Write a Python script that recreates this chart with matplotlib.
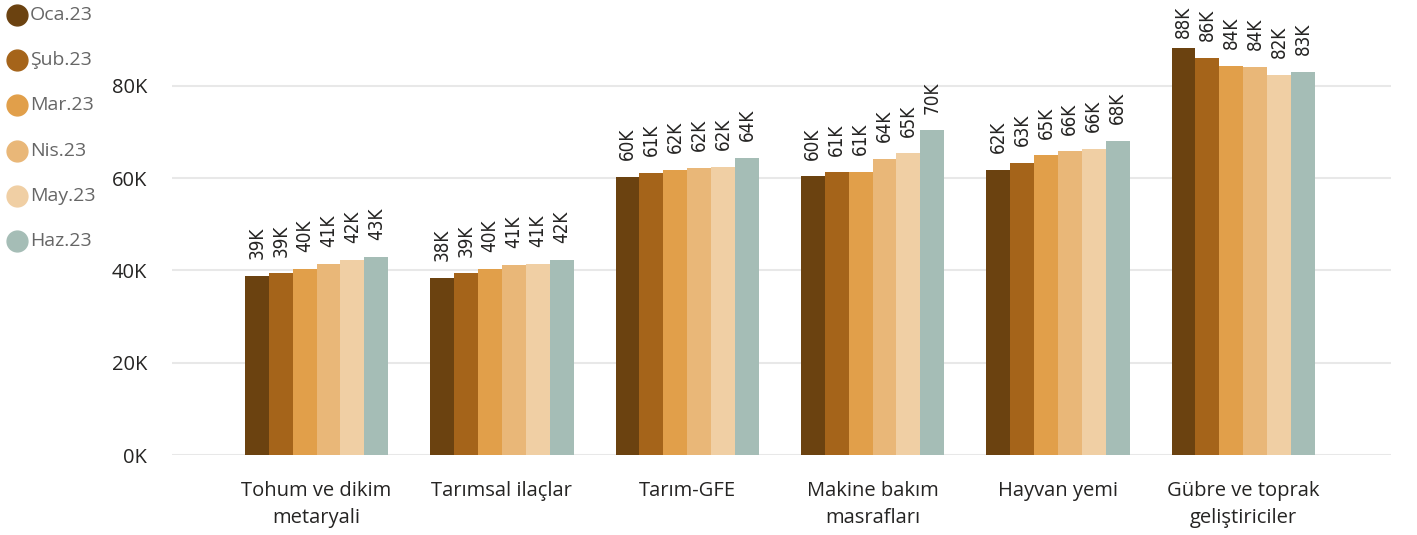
import matplotlib
matplotlib.use("agg")
import matplotlib.pyplot as plt
from matplotlib.lines import Line2D
import numpy as np

categories = ["Tohum ve dikim\nmetaryali", "Tarımsal ilaçlar", "Tarım-GFE",
              "Makine bakım\nmasrafları", "Hayvan yemi", "Gübre ve toprak\ngeliştiriciler"]
months = ["Oca.23", "Şub.23", "Mar.23", "Nis.23", "May.23", "Haz.23"]
colors = ["#6B4210", "#A5641A", "#E19F4A", "#E9B778", "#F0CFA4", "#A5BDB6"]

# values in thousands, one list per month
oca = [38.8, 38.4, 60.3, 60.4, 61.8, 88.3]
sub = [39.4, 39.4, 61.2, 61.3, 63.4, 86.1]
mar = [40.4, 40.3, 61.8, 61.4, 65.0, 84.4]
nis = [41.4, 41.2, 62.2, 64.2, 65.8, 84.2]
may = [42.3, 41.4, 62.4, 65.4, 66.4, 82.4]
haz = [42.9, 42.3, 64.4, 70.4, 68.1, 83.1]
series = [oca, sub, mar, nis, may, haz]

plt.rcParams["font.family"] = ["Open Sans", "DejaVu Sans"]

fig = plt.figure(figsize=(14.17, 5.35), dpi=100)
ax = fig.add_axes([0.1214, 0.1495, 0.8606, 0.845])

x = np.arange(len(categories))
w = 0.129
for i, (vals, c) in enumerate(zip(series, colors)):
    pos = x + (i - 2.5) * w
    ax.bar(pos, vals, width=w, color=c, zorder=2)
    for px, v in zip(pos, vals):
        # labels that would run off the top get pulled closer to the bar
        off = 12 if v < 87 else 7
        ax.annotate(f"{round(v):.0f}K", (px, v), xytext=(0, off), textcoords="offset points",
                    rotation=90, ha="center", va="bottom", fontsize=13.5,
                    color="#252423", family="DejaVu Sans", fontstretch="condensed")

ax.set_xlim(-0.78, 5.8)
ax.set_ylim(0, 98)
ax.set_yticks([0, 20, 40, 60, 80])
ax.set_yticklabels(["0K", "20K", "40K", "60K", "80K"])
ax.set_xticks(x)
ax.set_xticklabels(categories, linespacing=1.45)
ax.tick_params(axis="y", length=0, pad=18, labelsize=14.5, labelcolor="#252423")
ax.tick_params(axis="x", length=0, pad=19, labelsize=14.5, labelcolor="#252423")
ax.grid(axis="y", color="#E8E8E8", linewidth=1.5, zorder=0)
for s in ax.spines.values():
    s.set_visible(False)

# legend drawn by hand in the top-left corner
W, H = 1417, 535
for i, (m, c) in enumerate(zip(months, colors)):
    yy = 1 - (15 + i * 45.2) / H
    fig.add_artist(Line2D([17 / W], [yy], transform=fig.transFigure, marker="o",
                          markersize=15, color=c, linestyle=""))
    fig.text(30 / W, yy, m, va="center", ha="left", fontsize=14, color="#666666")

fig.savefig("out.png", dpi=100)
plt.close(fig)
